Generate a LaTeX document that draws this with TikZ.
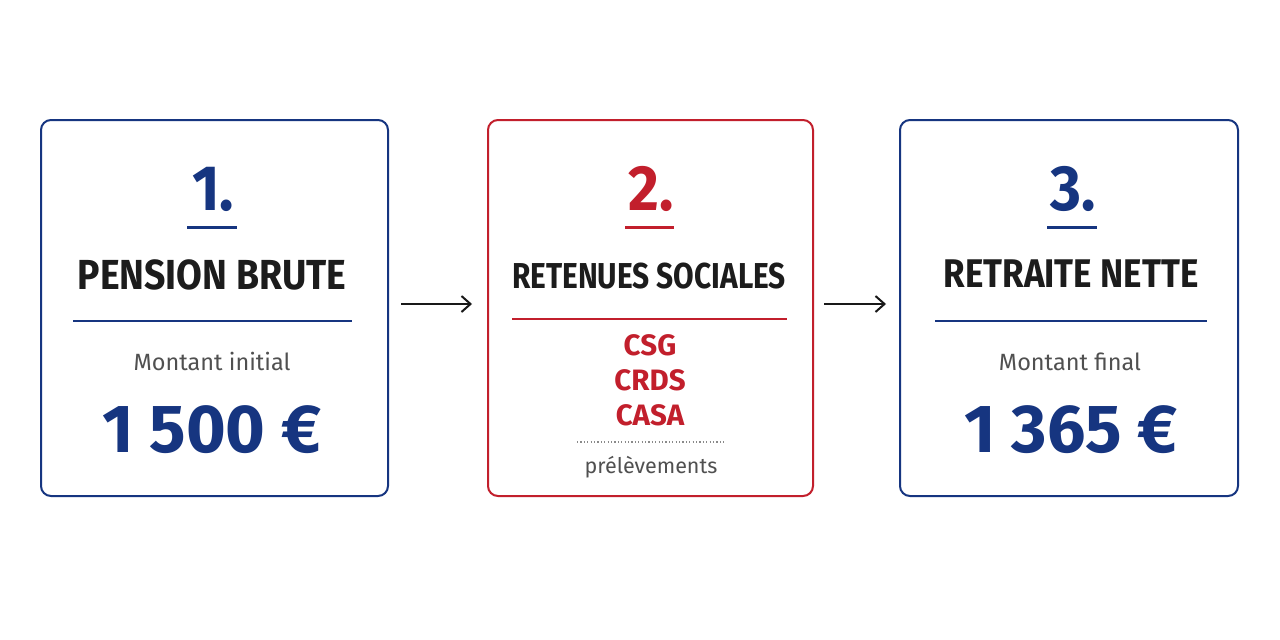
\documentclass[tikz,border=0pt]{standalone}
\usepackage{fontspec}
\setmainfont{Fira Sans}
\newfontfamily\condP[FakeStretch=0.89]{Fira Sans}
\newfontfamily\condR[FakeStretch=0.83]{Fira Sans}
\newfontfamily\condN[FakeStretch=0.875]{Fira Sans}
\newfontfamily\numfont[FakeStretch=0.93]{Fira Sans}
\usetikzlibrary{arrows.meta}
\definecolor{navy}{HTML}{163580}
\definecolor{crimson}{HTML}{C21F2C}
\definecolor{ink}{HTML}{1C1C1C}
\definecolor{greytext}{HTML}{505050}
\definecolor{dotgrey}{HTML}{8A8A8A}
\begin{document}
\begin{tikzpicture}[x=1pt,y=-1pt,
  card/.style={draw=#1,line width=2pt,rounded corners=10pt,fill=white},
  numtext/.style={font=\numfont\bfseries\fontsize{64}{64}\selectfont,text=#1,anchor=base,inner sep=0pt},
  titletext/.style={text=ink,anchor=base,inner sep=0pt},
  subtext/.style={font=\fontsize{23.5}{23.5}\selectfont,text=greytext,anchor=base,inner sep=0pt},
  amount/.style={font=\bfseries\fontsize{68}{68}\selectfont,text=navy,anchor=base,inner sep=0pt},
  taxtext/.style={font=\bfseries\fontsize{29.5}{29.5}\selectfont,text=crimson,anchor=base,inner sep=0pt},
  flow/.style={draw=black!90,line width=2pt,-{Straight Barb[length=9pt,width=16pt,line width=2pt]}},
]
\useasboundingbox (0,0) rectangle (1280,640);
\fill[white] (0,0) rectangle (1280,640);

% cards
\node[card=navy,minimum width=347pt,minimum height=376pt] (b1) at (214.5,308) {};
\node[card=crimson,minimum width=325pt,minimum height=376pt] (b2) at (650.5,308) {};
\node[card=navy,minimum width=338pt,minimum height=376pt] (b3) at (1069,308) {};

% box 1
\node[numtext=navy] (n1) at (213,210) {1.};
\draw[navy,line width=3pt] (187,227) -- (237,227);
\node[titletext,font=\condP\bfseries\fontsize{42}{42}\selectfont] (t1) at (212,289) {PENSION BRUTE};
\draw[navy,line width=2pt] (73,321) -- (352,321);
\node[subtext] (s1) at (212,370) {Montant initial};
\node[amount] (a1) at (212,452) {1 500 €};

% box 2
\node[numtext=crimson] (n2) at (651,210) {2.};
\draw[crimson,line width=3pt] (625,227) -- (674,227);
\node[titletext,font=\condR\bfseries\fontsize{36}{36}\selectfont] (t2) at (649,288) {RETENUES SOCIALES};
\draw[crimson,line width=2pt] (512,319) -- (787,319);
\node[taxtext] (c1) at (650,355) {CSG};
\node[taxtext] (c2) at (650,390) {CRDS};
\node[taxtext] (c3) at (650,425) {CASA};
\draw[dotgrey,line width=1.2pt,dash pattern=on 1.2pt off 2.2pt] (577,442) -- (726,442);
\node[subtext,font=\fontsize{21.5}{21.5}\selectfont] (p2) at (651,473) {prélèvements};

% box 3
\node[numtext=navy] (n3) at (1073,210) {3.};
\draw[navy,line width=3pt] (1047,227) -- (1097,227);
\node[titletext,font=\condN\bfseries\fontsize{40}{40}\selectfont] (t3) at (1071,287) {RETRAITE NETTE};
\draw[navy,line width=2pt] (935,321) -- (1207,321);
\node[subtext] (s3) at (1070,370) {Montant final};
\node[amount] (a3) at (1071,452) {1 365 €};

% arrows
\draw[flow,shorten <=12pt,shorten >=15pt] ([yshift=4pt]b1.east) -- ([yshift=4pt]b2.west);
\draw[flow,shorten <=10pt,shorten >=13pt] ([yshift=4pt]b2.east) -- ([yshift=4pt]b3.west);
\end{tikzpicture}
\end{document}
